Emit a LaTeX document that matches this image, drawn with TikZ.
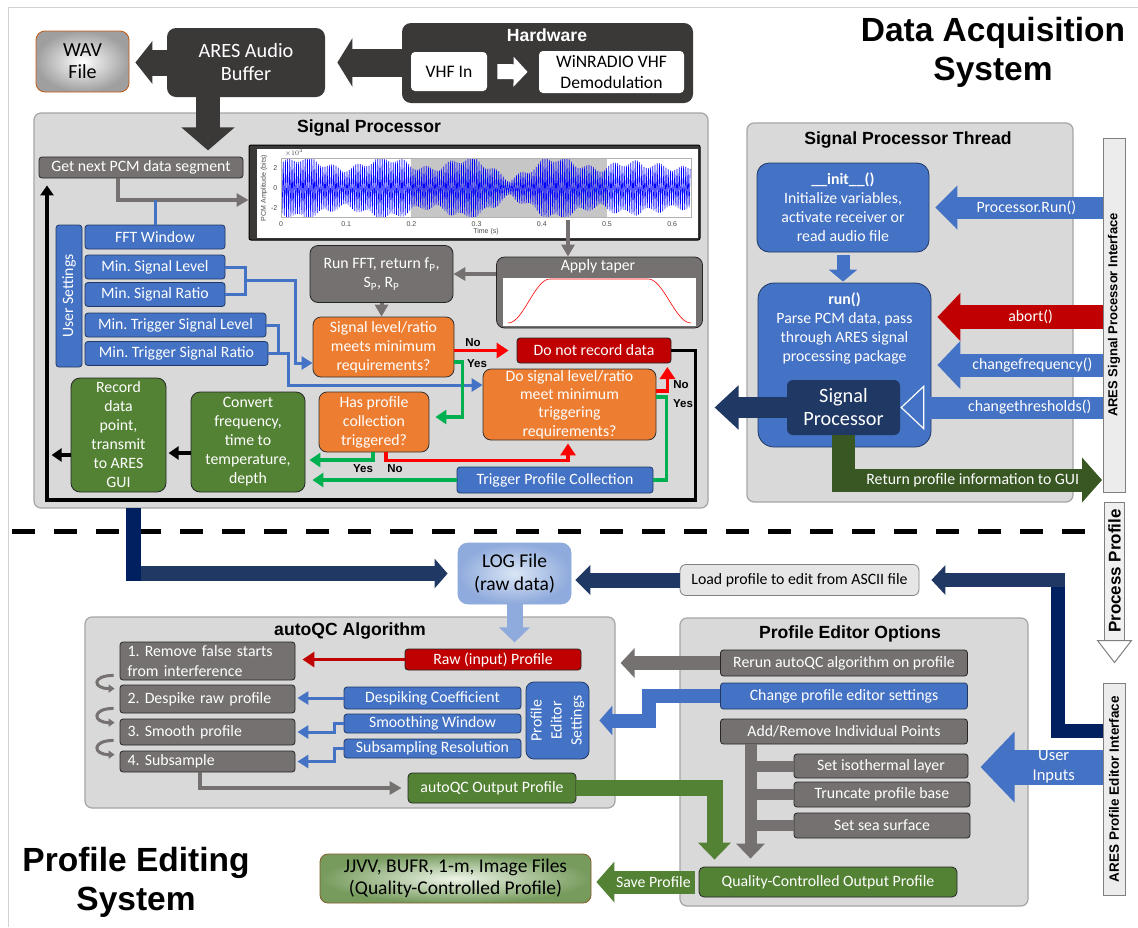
\documentclass[tikz,border=0pt]{standalone}
\usepackage{fontspec}
\setmainfont{Carlito}
\newfontfamily\arialfont{Liberation Sans}
\usetikzlibrary{arrows.meta}
\usetikzlibrary{calc}

\definecolor{boxdark}{HTML}{3B3838}
\definecolor{boxgray}{HTML}{767171}
\definecolor{panelfill}{HTML}{D9D9D9}
\definecolor{panelline}{HTML}{A5A5A5}
\definecolor{blueA}{HTML}{4472C4}
\definecolor{blueedge}{HTML}{203864}
\definecolor{orangeA}{HTML}{ED7D31}
\definecolor{greenA}{HTML}{548235}
\definecolor{greenB}{HTML}{385723}
\definecolor{redA}{HTML}{C00000}
\definecolor{navy}{HTML}{1F3864}
\definecolor{navyB}{HTML}{002060}
\definecolor{lineG}{HTML}{00B050}
\definecolor{loglight}{HTML}{DAE6F5}
\definecolor{logdark}{HTML}{8FAADC}
\definecolor{jjlight}{HTML}{EEF5E8}
\definecolor{wavedge}{HTML}{C55A11}
\definecolor{lightbox}{HTML}{E7E6E6}

\tikzset{
  sz/.style 2 args = {minimum width = #1pt, minimum height = #2pt},
  bx/.style = {rounded corners = 3pt, inner sep = 1pt, align = center, text = white,
    line width = 0.8pt, font = \fontsize{15.8}{19}\selectfont},
  graybox/.style = {bx, fill = boxgray, draw = black!85},
  bluebox/.style = {bx, fill = blueA, draw = blueedge},
  orangebox/.style = {bx, fill = orangeA, draw = black!80, rounded corners = 8pt},
  greenbox/.style = {bx, fill = greenA, draw = black!85, rounded corners = 9pt},
  redbox/.style = {bx, fill = redA, draw = black!85},
  darkbox/.style = {bx, fill = boxdark, rounded corners = 9pt, font = \fontsize{20.3}{23}\selectfont},
  whitebox/.style = {bx, fill = white, text = black, rounded corners = 4pt,
    font = \fontsize{17.6}{21}\selectfont},
  stepbox/.style = {graybox, align = left, text width = 160pt, inner xsep = 7.5pt,
    font = \fontsize{15.8}{20}\selectfont},
  panel/.style = {draw = panelline, fill = panelfill, rounded corners = 7pt, line width = 1.2pt},
  ptitle/.style = {font = \arialfont\bfseries\fontsize{17.6}{20}\selectfont},
  heading/.style = {font = \arialfont\bfseries\fontsize{33.5}{39}\selectfont, align = center},
  ifbar/.style = {draw = gray, fill = gray!15, line width = 1pt, rotate = 90, inner sep = 0pt,
    font = \arialfont\bfseries\fontsize{13}{15}\selectfont},
  yn/.style = {font = \arialfont\bfseries\fontsize{11.5}{12}\selectfont, inner sep = 1pt},
  tick/.style = {font = \arialfont\fontsize{7}{8}\selectfont, text = black!70, inner sep = 0.5pt},
  arrtext/.style = {text = white, font = \fontsize{15.8}{19}\selectfont, align = center},
  grayarr/.style = {draw = boxgray, line width = 4pt, -{Triangle[length = 12pt, width = 13pt]}},
  blueln/.style = {draw = blueA, line width = 3pt},
  bluearr/.style = {blueln, -{Triangle[length = 11pt, width = 13pt]}},
  grnln/.style = {draw = lineG, line width = 3.5pt},
  grnarr/.style = {grnln, -{Triangle[length = 11pt, width = 14pt]}},
  redarr/.style = {draw = red, line width = 3.5pt, -{Triangle[length = 12pt, width = 15pt]}},
  blkarr/.style = {draw = black, line width = 3.5pt, -{Triangle[length = 10pt, width = 13pt]}},
  fatarr/.style n args = {4}{draw = #1, line width = #2pt,
    -{Triangle[length = #3pt, width = #4pt]}}
}

\begin{document}
\frenchspacing
\begin{tikzpicture}[x = 1pt, y = -1pt]
  \useasboundingbox (0, 0) rectangle (1138, 927);
  \fill[white] (0, 0) rectangle (1138, 927);
  \draw[gray!35, line width = 1pt] (8, 927) -- (8, 7) -- (1138, 7);

  \node[heading] (dacq) at (993, 52) {Data Acquisition\\System};
  \node[heading] (pedit) at (136, 882) {Profile Editing\\System};

  % acquisition chain
  \node[bx, sz = {93}{61}, rounded corners = 9pt, inner color = white,
  outer color = gray!75, draw = wavedge, text = black,
  font = \fontsize{20}{22}\selectfont] (wav) at (82.5, 61.5) {WAV\\File};
  \node[darkbox, sz = {158}{69}] (ares) at (246, 62.5) {ARES Audio\\Buffer};
  \node[darkbox, sz = {291}{80}] (hw) at (547.5, 63) {};
  \node[ptitle, text = white] (hwt) at (547, 35) {Hardware};
  \node[whitebox, sz = {76}{39}] (vhf) at (449, 71.5) {VHF In};
  \node[whitebox, sz = {145}{42}] (winr) at (611.5, 72) {WiNRADIO VHF\\Demodulation};
  \draw[white, line width = 15pt, -{Triangle[length = 14pt, width = 29pt]},
  shorten <= 10pt, shorten >= 11pt] (vhf.east) -- (winr.west);

  \draw[fatarr = {boxdark}{26}{17}{42}, shorten >= 6pt] (ares.west) -- (ares.west -| wav.east);
  \draw[fatarr = {boxdark}{28}{15}{48}, shorten >= 12pt] (hw.west |- ares.east) -- (ares.east);

  % panels
  \node[panel, sz = {674}{395}] (spanel) at (371, 310.5) {};
  \node[ptitle] (sptitle) at (369, 128) {Signal Processor};
  \node[panel, sz = {326}{379}] (thread) at (910, 312.5) {};
  \node[ptitle] (thtitle) at (908, 140) {Signal Processor Thread};
  \node[panel, sz = {530}{191}] (aqc) at (350, 712.5) {};
  \node[ptitle] (aqctitle) at (350, 631) {autoQC Algorithm};
  \node[panel, sz = {348}{288}] (peo) at (854, 762) {};
  \node[ptitle] (peotitle) at (850, 634) {Profile Editor Options};

  \draw[fatarr = {boxdark}{24}{23}{52}] ([xshift = -38pt]ares.south) -- ++(0, 53);

  % signal processor
  \node[graybox, sz = {204}{21}] (getpcm) at (141, 167.5) {Get next PCM data segment};
  \node[fill = boxdark, draw = black, line width = 1pt, rounded corners = 2pt,
  sz = {451}{95}] (pcmplot) at (474.5, 192.5) {};
  \fill[white] ([shift = {(8, 4)}]pcmplot.north west) rectangle
  ([shift = {(-3, -3)}]pcmplot.south east);
  \fill[gray!45] (411, 158) rectangle (607, 217);
  \begin{scope}
    \clip (281, 158) rectangle (691, 217);
    \draw[blue, line width = 0.6pt] plot[domain = 0:372, samples = 373, variable = \k]
    ({281 + 1.1*\k}, {188 - (1 - 2*mod(\k, 2))*(24 + 5*sin(4.7*\k) + 3*sin(17*\k)
      - 10*max(0, 1 - abs(\k - 208)/34) - 6*max(0, 1 - abs(\k - 330)/24))});
  \end{scope}
  \draw[gray!60, line width = 0.4pt] (281, 158) rectangle (691, 217);
  \foreach \k/\t in {0/0, 1/0.1, 2/0.2, 3/0.3, 4/0.4, 5/0.5, 6/0.6}
    \node[tick] (xt\k) at ({281 + 65.2*\k}, 224) {\t};
  \foreach \t/\yy [count = \i] in {2/168, 0/188, -2/208}
    \node[tick, anchor = east] (yt\i) at (278, \yy) {\t};
  \node[tick] (xexp) at (294, 153) {$\times 10^4$};
  \node[tick, rotate = 90] (ylab) at (264, 188) {PCM Amplitude (bits)};
  \node[tick] (xlab) at (486, 232) {Time (s)};

  \node[graybox, rounded corners = 8pt, sz = {206}{71}] (taper) at (599.5, 292.5) {};
  \node[text = white, font = \fontsize{15.8}{19}\selectfont] (taptitle) at (598, 266) {Apply taper};
  \fill[white] ([shift = {(6.5, 21)}]taper.north west) rectangle
  ([shift = {(-6.5, -2)}]taper.south east);
  \draw[red, line width = 0.6pt] plot[domain = 0:1, samples = 30]
  ({508 + 42*\x}, {323 - 44*(1 - cos(180*\x))/2}) -- (648, 279) --
  plot[domain = 0:1, samples = 30] ({648 + 43*\x}, {279 + 44*(1 - cos(180*\x))/2});

  \node[graybox, rounded corners = 8pt, sz = {143}{57}] (runfft) at (381.5, 274)
  {Run FFT, return f\textsubscript{P},\\S\textsubscript{P}, R\textsubscript{P}};
  \node[orangebox, sz = {141}{60}] (siglev) at (383.5, 347)
  {Signal level/ratio\\meets minimum\\requirements?};
  \node[redbox, sz = {154}{25}] (norec) at (594, 350.5) {Do not record data};
  \node[orangebox, sz = {173}{71}, font = \fontsize{15.8}{18.3}\selectfont] (dosig)
  at (569.5, 404.5) {Do signal level/ratio\\meet minimum\\triggering\\requirements?};
  \node[orangebox, sz = {110}{60}] (hasprof) at (374, 422) {Has profile\\collection\\triggered?};
  \node[bluebox, sz = {196}{26}] (trig) at (555, 480) {Trigger Profile Collection};
  \node[bluebox, rotate = 90, sz = {142}{26}] (usr) at (69, 296) {User Settings};
  \node[bluebox, sz = {140}{24}] (fft) at (155, 237) {FFT Window};
  \node[bluebox, sz = {140}{24}] (minlev) at (155, 267) {Min. Signal Level};
  \node[bluebox, sz = {140}{24}] (minrat) at (155, 294.5) {Min. Signal Ratio};
  \node[bluebox, sz = {181}{24}] (mintlev) at (175.5, 325) {Min. Trigger Signal Level};
  \node[bluebox, sz = {183}{24}] (mintrat) at (176.5, 353.5) {Min. Trigger Signal Ratio};
  \node[greenbox, sz = {95}{114}] (record) at (118.5, 435)
  {Record\\data\\point,\\transmit\\to ARES\\GUI};
  \node[greenbox, sz = {114}{100}] (convert) at (248, 442)
  {Convert\\frequency,\\time to\\temperature,\\depth};

  \draw[grayarr] ([xshift = -23pt]getpcm.south) |- ([yshift = -7.5pt]pcmplot.west);
  \draw[blueln] (fft.north) -- ++(0, -25);
  \draw[grayarr] ([xshift = -31.5pt, yshift = 37pt]taper.north) -- ([xshift = -31.5pt]taper.north);
  \draw[grayarr] (taper.west |- runfft.east) -- (runfft.east);
  \draw[grayarr] (runfft.south) -- (runfft.south |- siglev.north);

  \draw[blueln] (minlev.east) -- ++(20, 0) |- (minrat.east);
  \draw[bluearr] ($(minlev.east)!0.5!(minrat.east) + (20, 0)$) -- ++(50, 0)
  |- ([yshift = -16pt]siglev.west);
  \draw[blueln] (mintlev.east) -- ++(12, 0) -- ++(0, 28.5);
  \draw[bluearr] (mintrat.east) -- ++(20, 0) |- ([yshift = 19.5pt]dosig.west);

  \draw[redarr, shorten >= 8pt] (siglev.east |- norec.west) -- (norec.west);
  \node[yn] (no1) at (473, 343) {No};
  \node[yn] (yes1) at (477, 364) {Yes};
  \draw[grnarr, shorten >= 6pt] ([yshift = -15pt]siglev.east) -- ++(8, 0)
  |- ([yshift = 5pt]hasprof.east);
  \draw[redarr] ([yshift = 13.5pt]dosig.east) -- ++(11, 0) -- ++(0, -24);
  \node[yn] (no2) at (681, 385) {No};
  \node[yn] (yes2) at (683, 404) {Yes};
  \draw[grnln] ([yshift = 7.5pt]dosig.east) -- ++(10, 0) |- (trig.east);
  \draw[grnarr, shorten >= 7pt] (trig.west) -- (trig.west -| convert.east);
  \draw[grnarr, shorten >= 4pt] ([xshift = -1pt]hasprof.south) |- ([yshift = -18pt]convert.east);
  \draw[redarr, shorten >= 3pt] ([xshift = 12pt]hasprof.south) -- ++(0, 8)
  -| ([xshift = -1.5pt]dosig.south);
  \node[yn] (yes3) at (363, 469) {Yes};
  \node[yn] (no3) at (395, 469) {No};
  \draw[blkarr] ([yshift = -11pt]convert.west) -- ++(-22, 0);
  \draw[blkarr] ([yshift = -20pt]record.west) -- ++(-19, 0);
  \coordinate (loopc) at (47, 500);
  \draw[blkarr, shorten >= 7pt] (norec.east) -- ++(24, 0) |- (loopc)
  -- (loopc |- getpcm.south);

  % signal processor thread
  \node[bluebox, rounded corners = 12pt, sz = {172}{89}] (init) at (843, 207.5)
  {\textbf{\_\_init\_\_()}\\Initialize variables,\\activate receiver or\\read audio file};
  \node[bluebox, rounded corners = 16pt, sz = {173}{164}] (run) at (844.5, 365) {};
  \node[arrtext] (runtxt) at (844.5, 328.5)
  {\textbf{run()}\\Parse PCM data, pass\\through ARES signal\\processing package};
  \node[bx, fill = navy, rounded corners = 6pt, sz = {113}{55},
  font = \fontsize{20.3}{23}\selectfont] (spcore) at (843.5, 407.5) {Signal\\Processor};
  \node[ifbar, sz = {354}{22}] (spif) at (1114, 315) {ARES Signal Processor Interface};

  \draw[fatarr = {blueA}{13}{12}{28}, shorten <= 3pt, shorten >= 1pt]
  (init.south) -- (init.south |- run.north);
  \draw[fatarr = {blueA}{22}{22}{43}, shorten >= 6pt] (init.east -| spif.north) -- (init.east)
  node[pos = 0.44, arrtext] (runlbl) {Processor.Run()};
  \coordinate (abt) at ([yshift = 48pt]run.east);
  \draw[fatarr = {redA}{24}{23}{47}, shorten >= 6pt] (abt -| spif.north) -- (abt)
  node[pos = 0.42, arrtext] (ablbl) {abort()};
  \draw[fatarr = {blueA}{23}{23}{47}, shorten >= 6pt] (run.east -| spif.north) -- (run.east)
  node[pos = 0.41, arrtext] (cflbl) {changefrequency()};
  \draw[draw = blueA, line width = 22pt, -{Triangle[length = 24pt, width = 45pt,
  fill = blueA, color = white, line width = 1.2pt]}] (spcore.east -| spif.north)
  -- (spcore.east) node[pos = 0.36, arrtext] (ctlbl) {changethresholds()};
  \draw[fatarr = {navy}{21}{24}{43}, shorten >= 6pt] (spcore.west) -- (spcore.west -| spanel.east);
  \coordinate (retp) at (1102, 480);
  \draw[fatarr = {greenB}{23}{20}{44}] (spcore.south) |- (retp)
  node[pos = 0.75, arrtext] (retlbl) {Return profile information to GUI};

  % hand-over to editing
  \node[ifbar, fill = gray!12, sz = {138}{20}, font = \arialfont\bfseries\fontsize{17}{18}\selectfont]
  (pp) at (1114.5, 571) {Process Profile};
  \filldraw[fill = white, draw = gray, line width = 1pt] ([xshift = -17pt]pp.west)
  -- ([xshift = 17pt]pp.west) -- ([yshift = -22pt]pp.west) -- cycle;
  \draw[line width = 5pt, dash pattern = on 23pt off 19pt] (12, 531) -- (1095, 531);

  \node[bx, sz = {113}{61}, rounded corners = 10pt, inner color = loglight,
  outer color = logdark, draw = logdark, text = black,
  font = \fontsize{19.5}{23}\selectfont] (log) at (514.5, 573.5) {LOG File\\(raw data)};
  \coordinate (spout) at (133.5, 508);
  \draw[fatarr = {navy}{15}{13}{29}, shorten >= 10pt] (spout) |- (log.west);
  \draw[navyB, line width = 15pt] (spout) -- ++(0, 73);
  \node[bx, fill = lightbox, draw = gray, text = black, rounded corners = 6pt,
  sz = {239}{31}] (load) at (799.5, 580) {Load profile to edit from ASCII file};
  \draw[fatarr = {navy}{15}{15}{29}, shorten >= 4pt] (load.west) -- (load.west -| log.east);
  \node[ifbar, sz = {212}{22}, font = \arialfont\bfseries\fontsize{13.5}{15}\selectfont]
  (pei) at (1114, 789) {ARES Profile Editor Interface};
  \draw[fatarr = {navy}{14}{14}{29}, shorten >= 12pt] ([yshift = 58pt]pei.north)
  -- ++(-44.5, 0) |- (load.east);
  \draw[navyB, line width = 14pt] ([yshift = 58pt]pei.north) -- ++(-44.5, 0) -- ++(0, -144);
  \draw[fatarr = {logdark}{16}{15}{30}] (log.south) -- ++(0, 38);

  % autoQC
  \node[stepbox, sz = {175}{38}] (s1) at (207.5, 661) {1. Remove false starts\\from interference};
  \node[stepbox, sz = {175}{28}] (s2) at (207.5, 699) {2. Despike raw profile};
  \node[stepbox, sz = {175}{26}] (s3) at (207.5, 732) {3. Smooth profile};
  \node[stepbox, sz = {175}{21}] (s4) at (207.5, 761.5) {4. Subsample};
  \foreach \a/\b in {s1/s2, s2/s3, s3/s4}
    \draw[draw = boxgray, line width = 3pt, -{Triangle[length = 6pt, width = 8pt]}]
    ([xshift = -6pt, yshift = 5pt]\a.south west) .. controls +(-22, 0) and +(-22, 0) ..
    ([xshift = -5pt, yshift = -4pt]\b.north west);
  \node[redbox, sz = {176}{21}] (raw) at (493, 659.5) {Raw (input) Profile};
  \node[bluebox, sz = {177}{22}] (desp) at (432.5, 698) {Despiking Coefficient};
  \node[bluebox, sz = {177}{19}] (smooth) at (432.5, 723.5) {Smoothing Window};
  \node[bluebox, sz = {177}{19}] (subs) at (432.5, 748.5) {Subsampling Resolution};
  \node[bluebox, rotate = 90, rounded corners = 8pt, sz = {77}{63},
  font = \fontsize{15.8}{20}\selectfont] (pes) at (557.5, 720.5) {Profile\\Editor\\Settings};
  \node[greenbox, rounded corners = 4pt, sz = {168}{30}] (aout) at (492, 788) {autoQC Output Profile};

  \draw[redarr, draw = redA, shorten >= 7pt] (raw.west) -- (raw.west -| s1.east);
  \draw[bluearr, shorten >= 2pt] (desp.west) -- (desp.west -| s2.east);
  \draw[bluearr, shorten >= 2pt] (smooth.west) -- ++(-9, 0) |- (s3.east);
  \draw[bluearr, shorten >= 2pt] (subs.west) -- ++(-9, 0) |- (s4.east);
  \draw[grayarr, shorten >= 6pt] ([xshift = -7.5pt]s4.south) |- (aout.west);

  % profile editor options
  \node[graybox, sz = {247}{26}] (rerun) at (844, 663) {Rerun autoQC algorithm on profile};
  \node[bluebox, sz = {247}{26}] (chg) at (844, 696) {Change profile editor settings};
  \node[graybox, sz = {247}{25}] (addrem) at (844, 731.5) {Add/Remove Individual Points};
  \node[graybox, sz = {174}{24}] (iso) at (881, 766) {Set isothermal layer};
  \node[graybox, sz = {176}{25}] (trunc) at (882, 794.5) {Truncate profile base};
  \node[graybox, sz = {176}{25}] (sea) at (882, 825.5) {Set sea surface};
  \node[greenbox, rounded corners = 5pt, sz = {258}{30}] (qc) at (828, 882)
  {Quality-Controlled Output Profile};
  \node[bx, sz = {271}{49}, rounded corners = 8pt, inner color = jjlight,
  outer color = greenA!80, draw = brown!70!black, text = black,
  font = \fontsize{19.5}{22}\selectfont] (jj) at (455.5, 878.5)
  {JJVV, BUFR, 1-m, Image Files\\(Quality-Controlled Profile)};

  \draw[fatarr = {boxgray}{14}{14}{29}, shorten >= 5pt] (rerun.west) -- (rerun.west -| aqc.east);
  \draw[fatarr = {blueA}{14}{13}{29}, shorten >= 10pt] (chg.west) -- ++(-71, 0) |- (pes.south);
  \coordinate (gv) at ([xshift = -93.5pt]addrem.south);
  \foreach \b in {iso, trunc, sea}
    \draw[boxgray, line width = 11pt] (gv |- \b.west) -- (\b.west);
  \draw[fatarr = {boxgray}{12}{15}{28}, shorten >= 8pt] (gv) -- (gv |- qc.north);
  \draw[fatarr = {greenA}{16}{17}{32}, shorten >= 7pt] (aout.east) -| ([xshift = -113.5pt]qc.north);
  \draw[fatarr = {blueA}{35}{34}{69}] ([yshift = 22pt]pei.north) -- ++(-122, 0)
  node[pos = 0.4, arrtext, font = \fontsize{16.5}{20}\selectfont] (uinlbl) {User\\Inputs};
  \draw[fatarr = {greenA}{23}{18}{40}, shorten >= 5pt] ([xshift = -4pt]qc.west)
  -- (qc.west -| jj.east) node[pos = 0.4, arrtext] (savelbl) {Save Profile};
\end{tikzpicture}
\end{document}
